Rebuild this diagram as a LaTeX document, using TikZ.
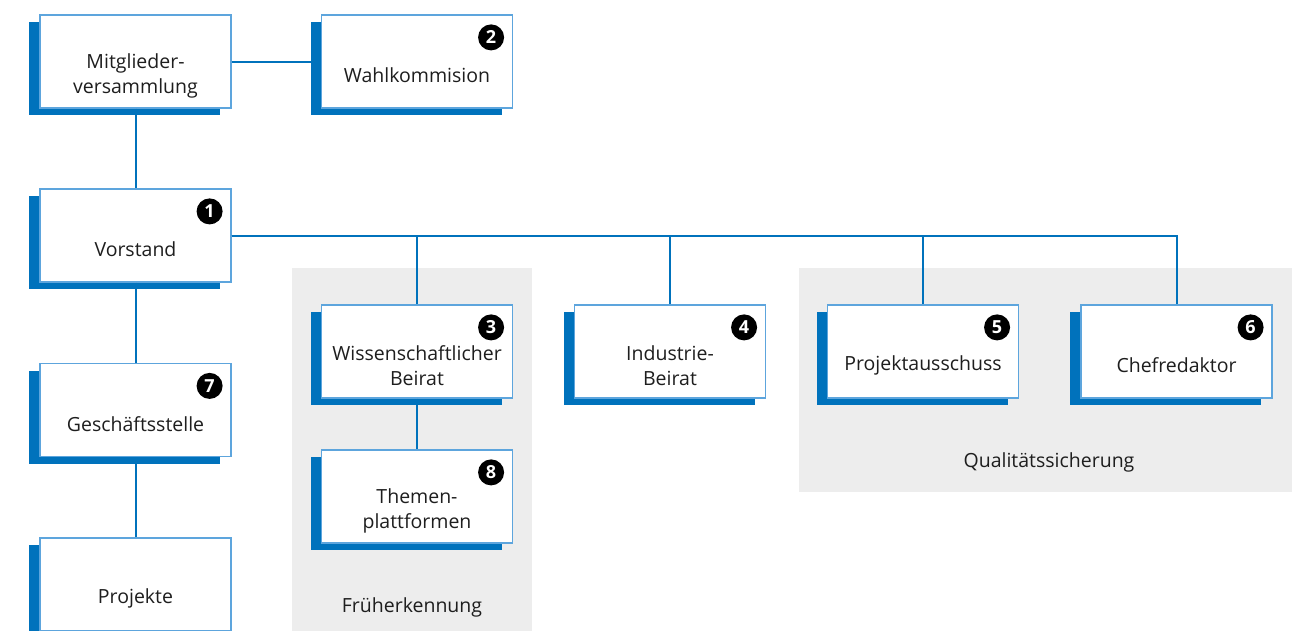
\documentclass[tikz,border=0pt]{standalone}
\usepackage{fontspec}
\setmainfont{Open Sans}
\usetikzlibrary{shadows}
\definecolor{boxblue}{HTML}{0072BC}
\definecolor{rimblue}{HTML}{5DA5DD}
\definecolor{areagrey}{HTML}{EDEDED}
\definecolor{txtgrey}{HTML}{1E1E1E}
\tikzset{
  orgbox/.style={rectangle, draw=rimblue, line width=1.2pt, fill=white, minimum width=191pt, minimum height=93pt, inner sep=0pt,
    copy shadow={shadow xshift=-11pt, shadow yshift=-7pt, fill=boxblue, draw=none}},
  boxtext/.style={text=txtgrey, align=center, font=\fontsize{19.5}{25}\selectfont, yshift=-14pt},
  badge/.style={circle, fill=black, text=white, inner sep=0pt, minimum size=26pt, font=\fontsize{18}{18}\selectfont\bfseries, xshift=-22pt, yshift=-23pt},
  link/.style={draw=boxblue, line width=2pt},
  area/.style={fill=areagrey, draw=none},
  arealabel/.style={text=txtgrey, font=\fontsize{19.5}{25}\selectfont},
}
\begin{document}
\begin{tikzpicture}[x=1pt, y=-1pt]
                \useasboundingbox (0,0) rectangle (1296,630);
                \fill[white] (0,0) rectangle (1296,630);

                % grey areas
                \fill[area] (292,268) rectangle (532,640);
                \fill[area] (799,268) rectangle (1292,492);
                \node[arealabel] (frueh) at (412,607) {Früherkennung};
                \node[arealabel] (quali) at (1049,462) {Qualitätssicherung};

                % left column
                \node[orgbox, label={[boxtext]center:{Mitglieder-\\versammlung}}] (mv) at (135.5,61.5) {};
                \node[orgbox, label={[boxtext]center:Vorstand}] (vor) at (135.5,235.5) {};
                \node[orgbox, label={[boxtext]center:Geschäftsstelle}] (gs) at (135.5,410) {};
                \node[orgbox, label={[boxtext]center:Projekte}] (proj) at (135.5,584.5) {};

                % second column
                \node[orgbox, label={[boxtext]center:Wahlkommision}] (wahl) at (417,61.5) {};
                \node[orgbox, label={[boxtext]center:{Wissenschaftlicher\\Beirat}}] (wiss) at (417,351.5) {};
                \node[orgbox, label={[boxtext]center:{Themen-\\plattformen}}] (them) at (417,496.5) {};

                % row of committees
                \node[orgbox, label={[boxtext]center:{Industrie-\\Beirat}}] (ind) at (670,351.5) {};
                \node[orgbox, label={[boxtext]center:Projektausschuss}] (pa) at (923,351.5) {};
                \node[orgbox, label={[boxtext]center:Chefredaktor}] (chef) at (1176.5,351.5) {};

                % numbers
                \node[badge] (b1) at (vor.north east) {1};
                \node[badge] (b2) at (wahl.north east) {2};
                \node[badge] (b3) at (wiss.north east) {3};
                \node[badge] (b4) at (ind.north east) {4};
                \node[badge] (b5) at (pa.north east) {5};
                \node[badge] (b6) at (chef.north east) {6};
                \node[badge] (b7) at (gs.north east) {7};
                \node[badge] (b8) at (them.north east) {8};

                % connectors
                \draw[link] (mv.east) -- (wahl.west);
                \draw[link] (mv.south) -- (vor.north);
                \draw[link] (vor.south) -- (gs.north);
                \draw[link] (gs.south) -- (proj.north);
                \draw[link] (vor.east) -| (wiss.north);
                \draw[link] (vor.east) -| (ind.north);
                \draw[link] (vor.east) -| (pa.north);
                \draw[link] (vor.east) -| (chef.north);
                \draw[link] (wiss.south) -- (them.north);
            \end{tikzpicture}
\end{document}
